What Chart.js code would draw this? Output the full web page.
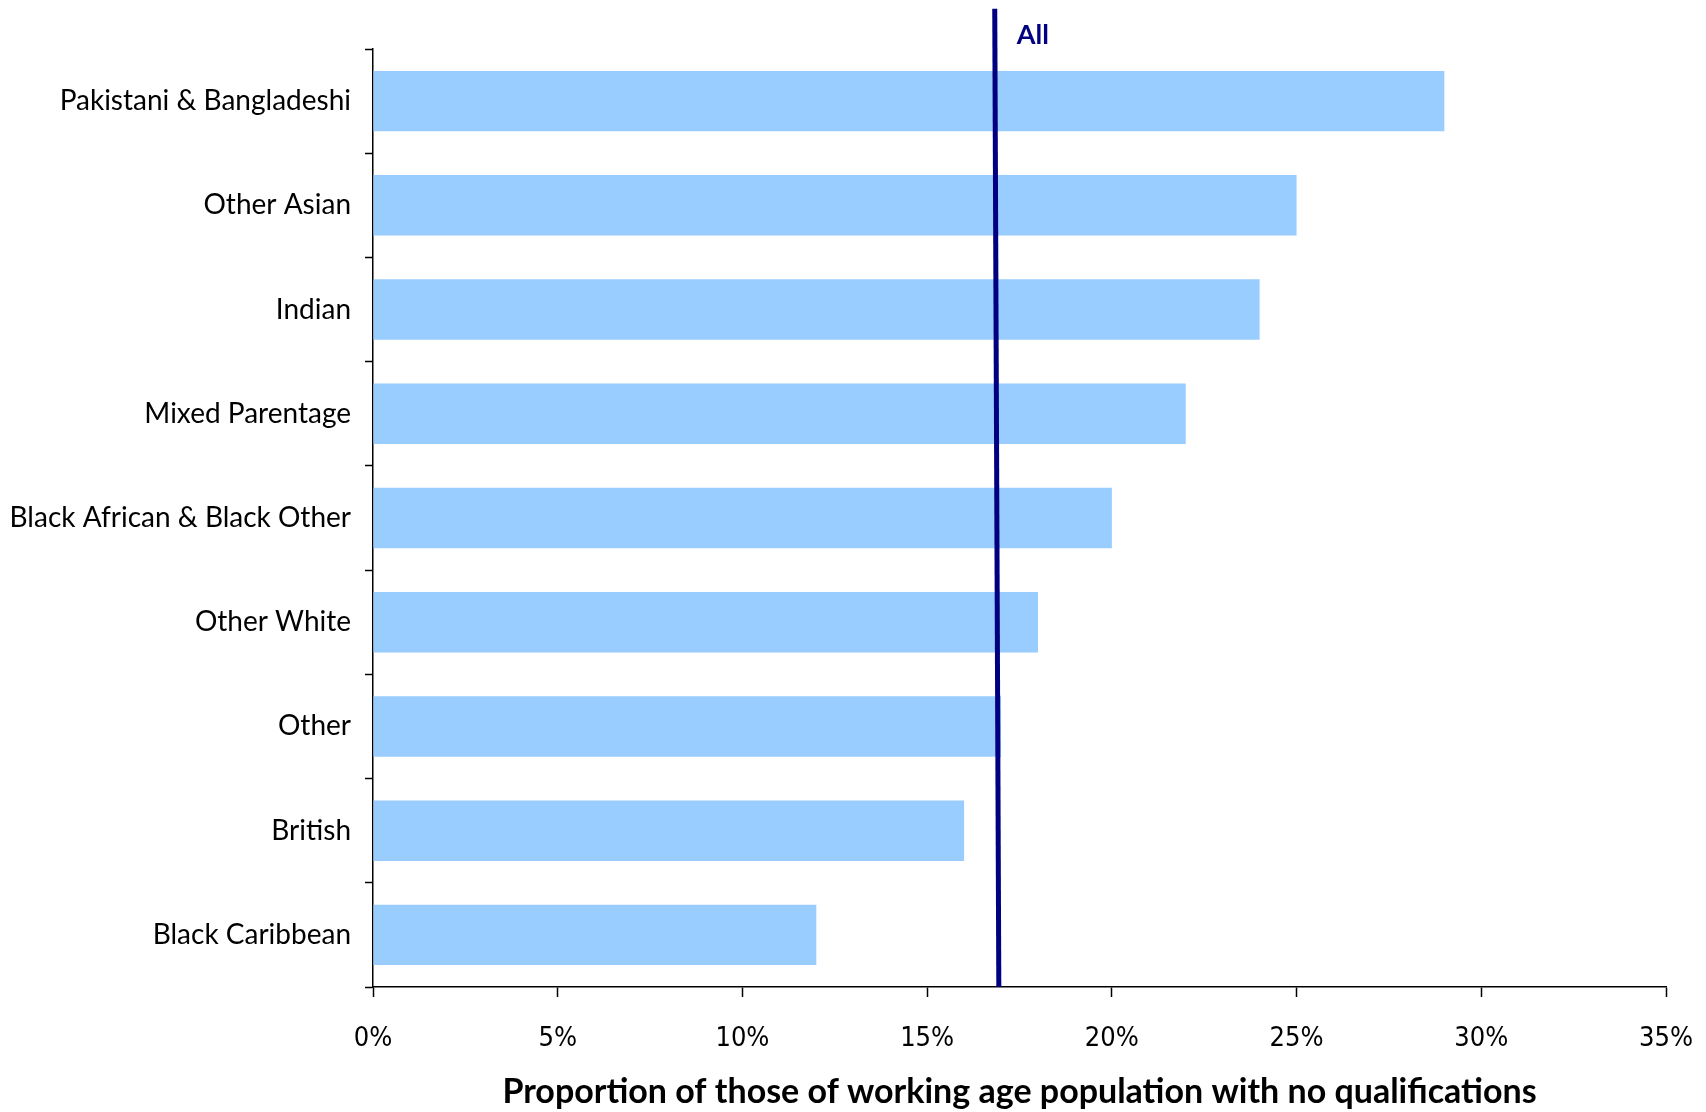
<!DOCTYPE html>
<html>
<head>
<meta charset="utf-8">
<script src="https://cdn.jsdelivr.net/npm/chart.js@4"></script>
<style>
  html, body { margin: 0; padding: 0; background: #fff; }
  #wrap { width: 1706px; height: 1112px; }
</style>
</head>
<body>
<div id="wrap"><canvas id="chart" width="1706" height="1112"></canvas></div>
<script>
const groups = [
  "Pakistani & Bangladeshi",
  "Other Asian",
  "Indian",
  "Mixed Parentage",
  "Black African & Black Other",
  "Other White",
  "Other",
  "British",
  "Black Caribbean"
];
const noQualPct = [29, 25, 24, 22, 20, 18, 17, 16, 12];

// "All" reference line, slightly slanted as drawn in the original
const allLineX = [16.94, 16.83];
const allLineY = [0, 1.043];
const allLabel = "All";

const xTicks = [0, 5, 10, 15, 20, 25, 30, 35];

const allLabelPlugin = {
  id: "allLabel",
  afterDatasetsDraw(chart) {
    const meta = chart.getDatasetMeta(1);
    const top = meta.data[1];
    if (!top) return;
    const c = chart.ctx;
    c.save();
    c.fillStyle = "#000080";
    c.font = "bold 27px Lato, 'DejaVu Sans', sans-serif";
    c.textBaseline = "middle";
    c.fillText(allLabel, top.x + 22, top.y + 27);
    c.restore();
  }
};

new Chart(document.getElementById("chart"), {
  type: "bar",
  data: {
    labels: groups,
    datasets: [
      {
        label: "No qualifications",
        data: noQualPct,
        backgroundColor: "#99CCFF",
        borderWidth: 0,
        grouped: false,
        barPercentage: 0.58,
        categoryPercentage: 1,
        xAxisID: "x",
        yAxisID: "y",
        order: 2
      },
      {
        type: "scatter",
        indexAxis: "x",
        label: "All",
        data: allLineX.map((v, i) => ({ x: v, y: allLineY[i] })),
        showLine: true,
        borderColor: "#000080",
        borderWidth: 5,
        pointRadius: 0,
        clip: false,
        xAxisID: "x",
        yAxisID: "y2",
        order: 1
      }
    ]
  },
  options: {
    indexAxis: "y",
    responsive: false,
    animation: false,
    layout: { padding: { top: 49, right: 40, left: 0, bottom: 0 } },
    plugins: {
      legend: { display: false },
      tooltip: { enabled: false }
    },
    scales: {
      x: {
        type: "linear",
        position: "bottom",
        min: 0,
        max: 35,
        afterBuildTicks: s => { s.ticks = xTicks.map(v => ({ value: v })); },
        ticks: {
          color: "#000",
          font: { family: "'Liberation Sans Narrow', 'DejaVu Sans Condensed', Lato, sans-serif", size: 27 },
          padding: 26,
          callback: v => v + "%"
        },
        grid: { drawOnChartArea: false, color: "#000", tickLength: 10, tickWidth: 1.5 },
        border: { color: "#000", width: 1.5 },
        title: {
          display: true,
          text: "Proportion of those of working age population with no qualifications",
          color: "#000",
          font: { family: "Lato, 'DejaVu Sans', sans-serif", size: 34, weight: "bold" },
          padding: { top: 8, bottom: 0 }
        },
        afterFit: s => { s.height = 125; s.paddingLeft = 0; s.paddingRight = 0; }
      },
      y: {
        type: "category",
        position: "left",
        ticks: {
          color: "#000",
          font: { family: "Lato, 'DejaVu Sans', sans-serif", size: 28 },
          padding: 14
        },
        grid: { drawOnChartArea: false, color: "#000", tickLength: 8, tickWidth: 1.5, offset: true },
        border: { color: "#000", width: 1.5 },
        afterFit: s => { s.width = 373; }
      },
      y2: {
        type: "linear",
        display: false,
        offset: false,
        min: 0,
        max: 1
      }
    }
  },
  plugins: [allLabelPlugin]
});
</script>
</body>
</html>
